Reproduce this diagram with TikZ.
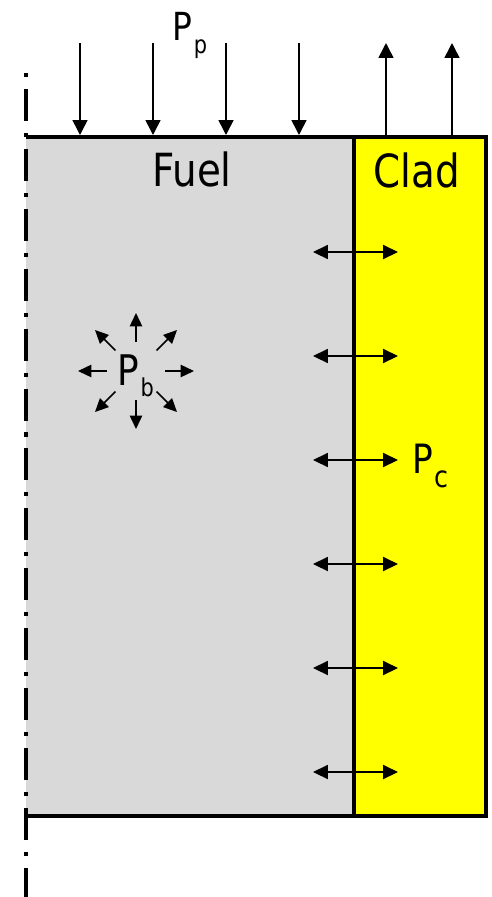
\documentclass[tikz,border=0pt]{standalone}
\usepackage{fontspec}
\setmainfont{DejaVu Sans}[FakeStretch=0.85]
\usetikzlibrary{arrows.meta}
\definecolor{fuelgray}{RGB}{217,217,217}
\definecolor{cladyellow}{RGB}{255,255,0}
\newcommand{\plab}[4]{\fontsize{#1}{#1}\selectfont P\kern1pt\raisebox{-#3}{\fontsize{#2}{#2}\selectfont #4}}
\begin{document}
\begin{tikzpicture}[x=0.02cm,y=-0.02cm,
  wall/.style={line width=1.8pt},
  push/.style={line width=0.9pt,-{Triangle[length=8.5pt,width=8.5pt]}},
  burst/.style={line width=0.9pt,-{Triangle[length=7.6pt,width=7pt]}},
  contact/.style={line width=0.9pt,{Triangle[length=8.5pt,width=8pt]}-{Triangle[length=8.5pt,width=8pt]}},
  lab/.style={inner sep=0pt,anchor=base}]
\useasboundingbox (0,0) rectangle (491,897);
\fill[fuelgray] (26,137) rectangle (354,816);
\fill[cladyellow] (354,137) rectangle (486,816);
\draw[wall] (26,137) -- (486,137) -- (486,816) -- (26,816);
\draw[wall] (354,137) -- (354,816);
\draw[wall,dash pattern=on 2.3pt off 6.8pt on 18.2pt off 6.8pt] (26,73) -- (26,897);
\foreach \x in {80,153,226,299}
  \draw[push] (\x,43) -- (\x,135);
\foreach \x in {386,452}
  \draw[push] (\x,135) -- (\x,43);
\foreach \y in {252,356,...,772}
  \draw[contact] (313,\y) -- (398,\y);
\foreach \a in {0,45,...,315}
  \draw[burst,shift={(136,371)}] (\a:29) -- (\a:58);
\node[lab,font=\fontsize{26}{30}\selectfont] (fuel) at (192,186) {Fuel};
\node[lab,font=\fontsize{26}{30}\selectfont] (clad) at (417,187) {Clad};
\node[lab,anchor=base west] (pp) at (172,40) {\plab{22}{14}{7.4pt}{p}};
\node[lab,anchor=base west] (pb) at (117,385) {\plab{24}{14}{6.8pt}{b}};
\node[lab,anchor=base west] (pc) at (412,473) {\plab{23}{17}{8pt}{c}};
\end{tikzpicture}
\end{document}
